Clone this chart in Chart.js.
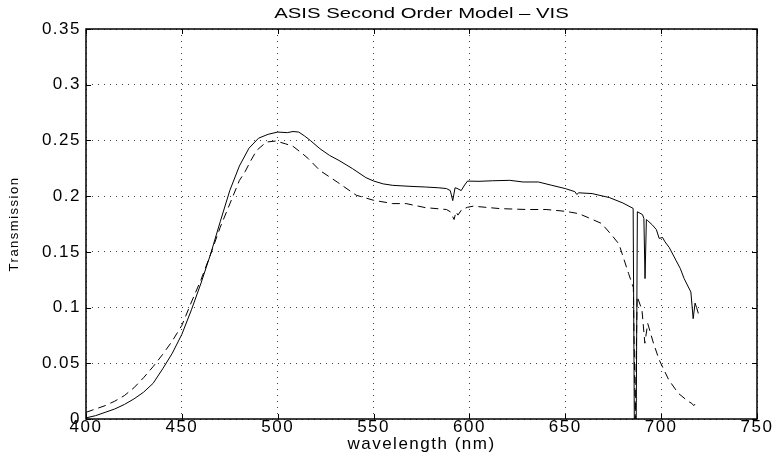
<!DOCTYPE html>
<html><head><meta charset="utf-8">
<script src="https://cdn.jsdelivr.net/npm/chart.js@4.4.1/dist/chart.umd.min.js"></script>
<style>html,body{margin:0;padding:0;background:#fff;}#wrap{width:776px;height:463px;}</style>
</head><body><div id="wrap"><canvas id="c" width="776" height="463"></canvas></div>
<script>
const titleText = 'ASIS Second Order Model \u2013 VIS';
const xAxisLabel = 'wavelength (nm)';
const yAxisLabel = 'Transmission';
const xTicks = [400, 450, 500, 550, 600, 650, 700, 750];
const xTickLabels = ['400', '450', '500', '550', '600', '650', '700', '750'];
const yTicks = [0, 0.05, 0.1, 0.15, 0.2, 0.25, 0.3, 0.35];
const yTickLabels = ['0', '0.05', '0.1', '0.15', '0.2', '0.25', '0.3', '0.35'];

const solidWavelength = [400,405,410,415,420,425,430,435,440,445,450,455,460,465,470,475,480,485,490,495,500,505,508,511,514,517,522,527,532,539,546,550,555,560,569,577,584,588,590,591.3,592.5,593.5,595.7,597.5,599,605,612,621,628,636,643,650,655,656,657,664,673,680,685.4,686,687,687.6,690.3,691,691.6,692.3,693,695.5,697.5,699,700.7,702,704.2,707.7,710,712,715.5,716.7,717.7,718.5,719.4];
const solidTransmission = [0.001,0.003,0.006,0.009,0.013,0.018,0.024,0.032,0.045,0.059,0.076,0.098,0.122,0.148,0.177,0.205,0.227,0.243,0.252,0.2555,0.2575,0.257,0.258,0.2575,0.254,0.250,0.2426,0.2366,0.232,0.2247,0.2166,0.2136,0.211,0.2097,0.2088,0.2082,0.2075,0.2068,0.205,0.196,0.2075,0.207,0.205,0.21,0.2135,0.2133,0.2138,0.2142,0.2127,0.2127,0.2097,0.2068,0.204,0.2015,0.203,0.2023,0.1987,0.1939,0.189,0.0,0.0,0.186,0.1834,0.180,0.126,0.179,0.178,0.174,0.170,0.162,0.163,0.159,0.154,0.1425,0.135,0.126,0.114,0.090,0.104,0.100,0.0947];

const dashedWavelength = [400,405,410,415,420,425,430,435,440,445,450,455,460,465,470,475,480,483,486,489,494,499,504,508,513,516,522,531,541,550,560,567,577,588,590,592,593,594,596,599,602,616,630,640,650,657,662,669,675,678,683,685.5,686.5,687.5,690,691.5,693,696,699,704,709,714,716,717,718,719];
const dashedTransmission = [0.006,0.009,0.012,0.016,0.021,0.028,0.037,0.047,0.058,0.070,0.084,0.105,0.125,0.148,0.172,0.193,0.214,0.222,0.232,0.241,0.2485,0.2495,0.247,0.2447,0.238,0.2336,0.223,0.2127,0.2008,0.1963,0.1933,0.1933,0.1897,0.188,0.186,0.179,0.186,0.183,0.188,0.190,0.191,0.1888,0.188,0.188,0.1864,0.1843,0.1807,0.1754,0.1634,0.157,0.1306,0.118,0.0,0.11,0.0977,0.068,0.0858,0.068,0.053,0.035,0.023,0.016,0.014,0.012,0.014,0.012];

const toPoints = (xs, ys) => xs.map((x, i) => ({x: x, y: ys[i]}));
const FONT = '"Liberation Sans", Arial, Helvetica, sans-serif';

const spacingPlugin = {
  id: 'spacing',
  beforeDraw(chart) { chart.ctx.letterSpacing = '1.5px'; },
  beforeDatasetsDraw(chart) { chart.ctx.letterSpacing = '0px'; }
};

const framePlugin = {
  id: 'frame',
  afterDraw(chart) {
    const {ctx, chartArea: a, scales} = chart;
    ctx.save();
    ctx.letterSpacing = '0px';
    ctx.strokeStyle = '#000';
    ctx.lineWidth = 1;
    ctx.beginPath();
    xTicks.forEach(v => {
      const px = Math.round(scales.x.getPixelForValue(v)) + 0.5;
      ctx.moveTo(px, a.bottom); ctx.lineTo(px, a.bottom - 5);
      ctx.moveTo(px, a.top); ctx.lineTo(px, a.top + 5);
    });
    yTicks.forEach(v => {
      const py = Math.round(scales.y.getPixelForValue(v)) + 0.5;
      ctx.moveTo(a.left, py); ctx.lineTo(a.left + 5, py);
      ctx.moveTo(a.right, py); ctx.lineTo(a.right - 5, py);
    });
    ctx.stroke();
    ctx.lineWidth = 1.5;
    ctx.strokeRect(a.left, a.top, a.right - a.left, a.bottom - a.top);
    ctx.fillStyle = '#000';
    ctx.font = '14px ' + FONT;
    ctx.textAlign = 'center';
    ctx.textBaseline = 'middle';
    ctx.translate((a.left + a.right) / 2, 14);
    ctx.scale(1.45, 1);
    ctx.fillText(titleText, 0, 0);
    ctx.restore();
  }
};

new Chart(document.getElementById('c'), {
  type: 'line',
  data: {
    datasets: [
      {data: toPoints(solidWavelength, solidTransmission), borderColor: '#000', borderWidth: 1, pointRadius: 0, tension: 0, fill: false},
      {data: toPoints(dashedWavelength, dashedTransmission), borderColor: '#000', borderWidth: 1, borderDash: [8, 5], pointRadius: 0, tension: 0, fill: false}
    ]
  },
  options: {
    responsive: false,
    animation: false,
    devicePixelRatio: 1,
    layout: {padding: {top: 29, right: 19, left: 0, bottom: 0}},
    plugins: {legend: {display: false}, tooltip: {enabled: false}, title: {display: false}},
    scales: {
      x: {
        type: 'linear', min: 400, max: 750,
        afterBuildTicks: s => { s.ticks = xTicks.map(v => ({value: v})); },
        afterFit: s => { s.height = 44; },
        ticks: {color: '#000', font: {family: FONT, size: 17, lineHeight: 1}, padding: 0, maxRotation: 0, autoSkip: false,
                callback: (v, i) => xTickLabels[i]},
        grid: {color: 'rgba(0,0,0,0.75)', lineWidth: 1, drawTicks: false},
        border: {display: false, dash: [1, 5]},
        title: {display: true, text: xAxisLabel, color: '#000', font: {family: FONT, size: 17}, padding: {top: 0, bottom: 8}}
      },
      y: {
        type: 'linear', min: 0, max: 0.35,
        afterBuildTicks: s => { s.ticks = yTicks.map(v => ({value: v})); },
        afterFit: s => { s.width = 86; },
        ticks: {color: '#000', font: {family: FONT, size: 17}, padding: 5, autoSkip: false,
                callback: (v, i) => yTickLabels[i]},
        grid: {color: 'rgba(0,0,0,0.75)', lineWidth: 1, drawTicks: false},
        border: {display: false, dash: [1, 5]},
        title: {display: true, text: yAxisLabel, color: '#000', font: {family: FONT, size: 13}, padding: {top: 7, bottom: 0}}
      }
    }
  },
  plugins: [spacingPlugin, framePlugin]
});
</script></body></html>
